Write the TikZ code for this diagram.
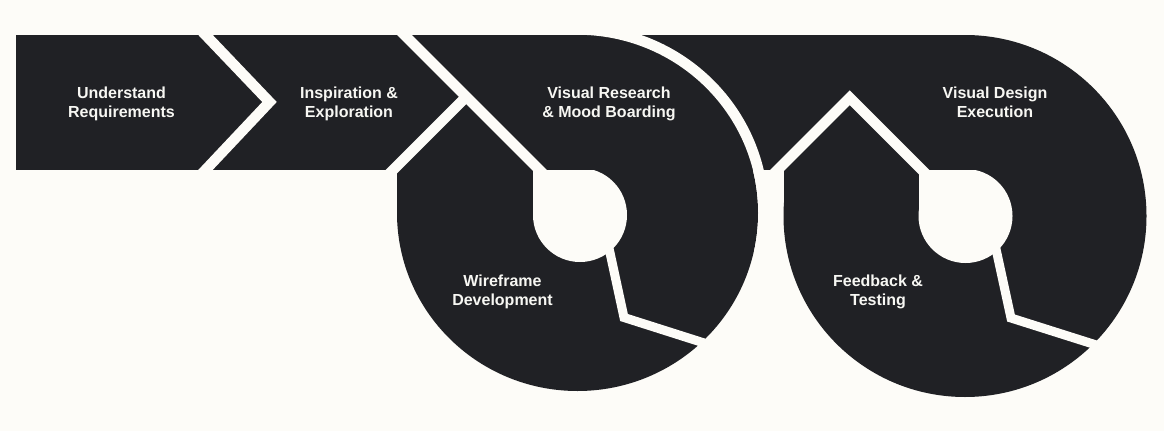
\documentclass[tikz,border=0pt]{standalone}
\usepackage{fontspec}
\setmainfont{Liberation Sans}
\definecolor{ink}{HTML}{202125}
\definecolor{paper}{HTML}{FDFCF8}
\definecolor{labelcol}{HTML}{F7F7F3}
\begin{document}
\begin{tikzpicture}[x=1pt,y=-1pt,
  gap/.style={draw=paper, line width=10.5pt, line join=miter, line cap=butt},
  spoke/.style={draw=paper, line width=9pt, line join=miter, line cap=butt},
  label/.style={text=labelcol, font=\bfseries\fontsize{16}{19}\selectfont,
                align=center, inner sep=0pt}]
  % canvas
  \fill[paper] (0,0) rectangle (1164,431);
  \useasboundingbox (0,0) rectangle (1164,431);

  % dark silhouette: band plus two rings
  \begin{scope}
    \clip (0,35) rectangle (1164,431);
    \fill[ink] (16,35) rectangle (965,170);
    \fill[ink] (397,35) rectangle (577.5,213);
    \fill[ink] (577.5,213) ellipse [x radius=180.5, y radius=178];
    \fill[ink] (783.5,35) rectangle (965,216);
    \fill[ink] (965,216) ellipse [x radius=181.5, y radius=181];
  \end{scope}

  % ring holes, flat along the band's lower edge
  \begin{scope}
    \clip (0,170) rectangle (1164,431);
    \fill[paper] (580,215) circle [radius=47];
    \fill[paper] (533,170) rectangle (580,215);
    \fill[paper] (965.5,216) circle [radius=47];
    \fill[paper] (918.5,170) rectangle (965.5,216);
  \end{scope}

  % separating gap around the first ring, upper right only
  \begin{scope}
    \clip (577.5,0) rectangle (780,250);
    \draw[gap] (577.5,213) ellipse [x radius=186, y radius=183.5];
  \end{scope}

  % chevron gap between the first two steps
  \coordinate (a1) at (196,25);
  \coordinate (a2) at (269.5,102);
  \coordinate (a3) at (196,180);
  \draw[gap] (a1) -- (a2) -- (a3);

  % diagonal into the first ring and its branch
  \coordinate (b1) at (394,24.5);
  \coordinate (b2) at (546,176.5);
  \coordinate (bj) at (466.25,96.75);
  \coordinate (b3) at (382,181);
  \draw[gap] (b1) -- (b2);
  \draw[gap] (bj) -- (b3);

  % roof-shaped gap in the second ring
  \coordinate (c1) at (770,177.5);
  \coordinate (c2) at (849.75,97.75);
  \coordinate (c3) at (928,176);
  \draw[gap] (c1) -- (c2) -- (c3);

  % bent spokes from the holes to the rims
  \coordinate (s1) at (604,225);
  \coordinate (s2) at (624,317.5);
  \coordinate (s3) at (745,356);
  \draw[spoke] (s1) -- (s2) -- (s3);
  \coordinate (r1) at (991,226);
  \coordinate (r2) at (1011,318);
  \coordinate (r3) at (1131,356);
  \draw[spoke] (r1) -- (r2) -- (r3);

  % step labels
  \node[label] (t1) at (121.5,104) {Understand\\Requirements};
  \node[label] (t2) at (349,104) {Inspiration \&\\Exploration};
  \node[label] (t3) at (609,104) {Visual Research\\\& Mood Boarding};
  \node[label] (t4) at (995,102.3) {Visual Design\\Execution};
  \node[label] (t5) at (502.5,291.5) {Wireframe\\Development};
  \node[label] (t6) at (878,291.5) {Feedback \&\\Testing};
\end{tikzpicture}
\end{document}
